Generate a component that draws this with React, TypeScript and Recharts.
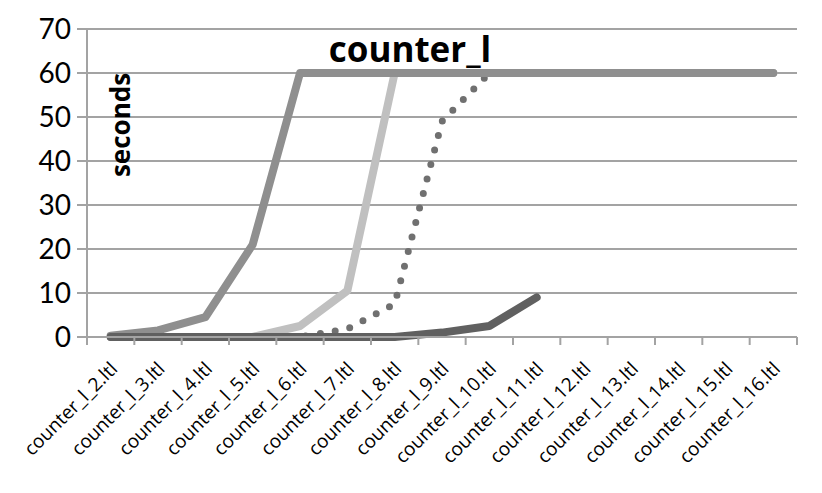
import { LineChart, Line, XAxis, YAxis, CartesianGrid } from 'recharts';

// categories along the x axis
const categories = [
  'counter_l_2.ltl', 'counter_l_3.ltl', 'counter_l_4.ltl', 'counter_l_5.ltl', 'counter_l_6.ltl',
  'counter_l_7.ltl', 'counter_l_8.ltl', 'counter_l_9.ltl', 'counter_l_10.ltl', 'counter_l_11.ltl',
  'counter_l_12.ltl', 'counter_l_13.ltl', 'counter_l_14.ltl', 'counter_l_15.ltl', 'counter_l_16.ltl',
];

// seconds per series
const seriesA = [0.3, 1.5, 4.5, 21, 60, 60, 60, 60, 60, 60, 60, 60, 60, 60, 60];
const seriesB = [0, 0, 0, 0, 2.5, 10.5, 60, 60, 60, 60, 60, 60, 60, 60, 60];
const seriesC = [0, 0, 0, 0, 0, 1.8, 7.5, 49, 60, 60, 60, 60, 60, 60, 60];
const seriesD: (number | null)[] = [0, 0, 0, 0, 0, 0, 0, 1, 2.5, 9, null, null, null, null, null];

const yTicks = [0, 10, 20, 30, 40, 50, 60, 70];
const xTicks = categories.map((_, i) => i).concat(categories.length);

const data = categories.map((name, i) => ({
  x: i + 0.5,
  name,
  a: seriesA[i],
  b: seriesB[i],
  c: seriesC[i],
  d: seriesD[i],
}));

const W = 814;
const H = 485;
const margin = { top: 21, right: 25, left: 0, bottom: 0 };
const yAxisWidth = 79;
const plotWidth = W - yAxisWidth - margin.right;
const halfBand = plotWidth / categories.length / 2;

const FONT = '"Open Sans", Lato, sans-serif';
const NUM_FONT = 'Lato, "Open Sans", sans-serif';
const GRID = '#a3a3a3';

const XTick = (props: any) => {
  const { x, y, payload } = props;
  const label = categories[payload.value];
  if (!label) return null;
  return (
    <g transform={`translate(${x + halfBand + 8},${y + 23})`}>
      <text transform="rotate(-45)" textAnchor="end" fontSize={19} fontFamily={FONT} fill="#000">
        {label}
      </text>
    </g>
  );
};

export default function App() {
  return (
    <div style={{ width: W, height: H, position: 'relative', fontFamily: FONT }}>
      <LineChart width={W} height={H} data={data} margin={margin}>
        <CartesianGrid horizontal vertical={false} stroke={GRID} strokeWidth={2} />
        <XAxis
          dataKey="x"
          type="number"
          domain={[0, categories.length]}
          ticks={xTicks}
          interval={0}
          stroke={GRID}
          strokeWidth={2}
          tickLine={{ stroke: GRID, strokeWidth: 2 }}
          tickSize={8}
          tick={<XTick />}
          height={H - margin.top - 308}
        />
        <YAxis
          domain={[0, 70]}
          ticks={yTicks}
          width={yAxisWidth}
          stroke={GRID}
          strokeWidth={2}
          tickLine={{ stroke: GRID, strokeWidth: 2 }}
          tickSize={10}
          tickMargin={6}
          tick={{ fontSize: 28, fill: '#000', fontFamily: NUM_FONT }}
        />
        <Line dataKey="b" stroke="#c0c0c0" strokeWidth={8} dot={false} strokeLinecap="round" strokeLinejoin="round" isAnimationActive={false} />
        <Line dataKey="c" stroke="#707070" strokeWidth={7} dot={false} strokeDasharray="0 15" strokeLinecap="round" isAnimationActive={false} />
        <Line dataKey="a" stroke="#8f8f8f" strokeWidth={8} dot={false} strokeLinecap="round" strokeLinejoin="round" isAnimationActive={false} />
        <Line dataKey="d" stroke="#606060" strokeWidth={8} dot={false} strokeLinecap="round" strokeLinejoin="round" isAnimationActive={false} />
        <text x={402} y={54} textAnchor="middle" fontSize={35} fontWeight="bold" fontFamily={FONT} fill="#000">
          counter_l
        </text>
        <text x={112} y={117} transform="rotate(-90 112 117)" textAnchor="middle" dominantBaseline="central" fontSize={26} fontWeight="bold" fontFamily={FONT} fill="#000">
          seconds
        </text>
      </LineChart>
    </div>
  );
}
